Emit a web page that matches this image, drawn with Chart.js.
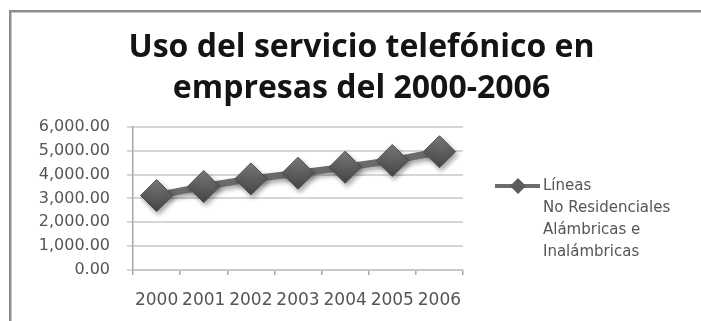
<!DOCTYPE html>
<html>
<head>
<meta charset="utf-8">
<title>Uso del servicio telefónico</title>
<script src="https://cdn.jsdelivr.net/npm/chart.js@4/dist/chart.umd.min.js"></script>
<style>
  html, body { margin: 0; padding: 0; background: #fff; }
  #wrap { position: relative; width: 701px; height: 321px; overflow: hidden; }
  #frame {
    position: absolute; left: 9px; top: 10px; width: 760px; height: 400px;
    border-left: 2px solid #8c8c8c; border-top: 2px solid #8c8c8c;
    box-shadow: inset 1px 1px 0 #c8c8c8;
  }
  #myChart { position: absolute; left: 0; top: 0; }
</style>
</head>
<body>
<div id="wrap">
  <div id="frame"></div>
  <canvas id="myChart" width="701" height="321"></canvas>
</div>
<script>
  const years = ["2000", "2001", "2002", "2003", "2004", "2005", "2006"];
  const lineas = [3120, 3500, 3820, 4060, 4310, 4590, 4960];
  const seriesName = ["Líneas", "No Residenciales", "Alámbricas e", "Inalámbricas"];
  const titleLines = ["Uso del servicio telefónico en", "empresas del 2000-2006"];

  const small = "'DejaVu Sans', sans-serif";
  const grey = "#555555";

  // soft drop shadow under the line and diamonds
  const shadow = {
    id: "shadow",
    beforeDatasetsDraw(chart) {
      const c = chart.ctx;
      c.save();
      c.shadowColor = "rgba(0,0,0,0.35)";
      c.shadowBlur = 5;
      c.shadowOffsetX = 2;
      c.shadowOffsetY = 3;
    },
    afterDatasetsDraw(chart) {
      chart.ctx.restore();
    },
  };

  // legend with the series name split over several lines
  const sideLegend = {
    id: "sideLegend",
    afterDraw(chart) {
      const c = chart.ctx;
      const area = chart.chartArea;
      const x0 = area.right + 32;
      const y0 = area.top + 59;
      c.save();
      c.strokeStyle = "#6b6b6b";
      c.lineWidth = 4;
      c.beginPath();
      c.moveTo(x0, y0);
      c.lineTo(x0 + 45, y0);
      c.stroke();
      const dx = x0 + 23, r = 8;
      c.fillStyle = "#5c5c5c";
      c.beginPath();
      c.moveTo(dx, y0 - r);
      c.lineTo(dx + r, y0);
      c.lineTo(dx, y0 + r);
      c.lineTo(dx - r, y0);
      c.closePath();
      c.fill();
      c.fillStyle = grey;
      c.font = "15px " + small;
      c.textBaseline = "middle";
      c.textAlign = "left";
      seriesName.forEach((t, i) => c.fillText(t, x0 + 48, y0 + i * 22.2));
      c.restore();
    },
  };

  const ctx = document.getElementById("myChart");

  new Chart(ctx, {
    type: "line",
    data: {
      labels: years,
      datasets: [
        {
          label: seriesName.join(" "),
          data: lineas,
          borderColor: "#6b6b6b",
          borderWidth: 7,
          tension: 0,
          pointStyle: "rectRot",
          pointRadius: 16,
          pointHoverRadius: 16,
          pointBorderColor: "#4a4a4a",
          pointBorderWidth: 1,
          pointBackgroundColor: (c) => {
            const chart = c.chart;
            if (!chart.chartArea || c.raw === undefined) return "#5c5c5c";
            const x = chart.scales.x.getPixelForValue(c.dataIndex);
            const y = chart.scales.y.getPixelForValue(c.raw);
            const g = chart.ctx.createLinearGradient(x, y - 16, x, y + 16);
            g.addColorStop(0, "#7e7e7e");
            g.addColorStop(0.5, "#5e5e5e");
            g.addColorStop(1, "#454545");
            return g;
          },
        },
      ],
    },
    options: {
      responsive: false,
      devicePixelRatio: 1,
      animation: false,
      layout: { padding: { left: 22, top: 0, right: 0, bottom: 0 } },
      plugins: {
        legend: { display: false },
        tooltip: { enabled: false },
        title: {
          display: true,
          text: titleLines,
          color: "#141414",
          font: { family: "'Open Sans', sans-serif", size: 32, weight: "bold", lineHeight: 1.28 },
          padding: { top: 27, bottom: 18 },
        },
      },
      scales: {
        x: {
          offset: true,
          grid: {
            offset: true,
            drawOnChartArea: false,
            drawTicks: true,
            tickLength: 5,
            color: "#a8a8a8",
            lineWidth: 1.5,
          },
          border: { color: "#c8c8c8", width: 2 },
          ticks: { color: grey, font: { family: small, size: 17 }, padding: 15, maxRotation: 0, autoSkip: false },
          afterFit(s) { s.height = 51; },
        },
        y: {
          min: 0,
          max: 6000,
          ticks: {
            stepSize: 1000,
            color: grey,
            font: { family: small, size: 16 },
            padding: 17,
            callback: (v) => v.toLocaleString("en-US", { minimumFractionDigits: 2, maximumFractionDigits: 2 }),
          },
          grid: { color: "#d6d6d6", lineWidth: 2, tickLength: 6 },
          border: { color: "#a8a8a8", width: 1.5 },
          afterFit(s) { s.width = 111; },
        },
        side: {
          type: "linear",
          position: "right",
          grid: { display: false },
          border: { display: false },
          ticks: { display: false },
          afterFit(s) { s.width = 238; },
        },
      },
    },
    plugins: [shadow, sideLegend],
  });
</script>
</body>
</html>
